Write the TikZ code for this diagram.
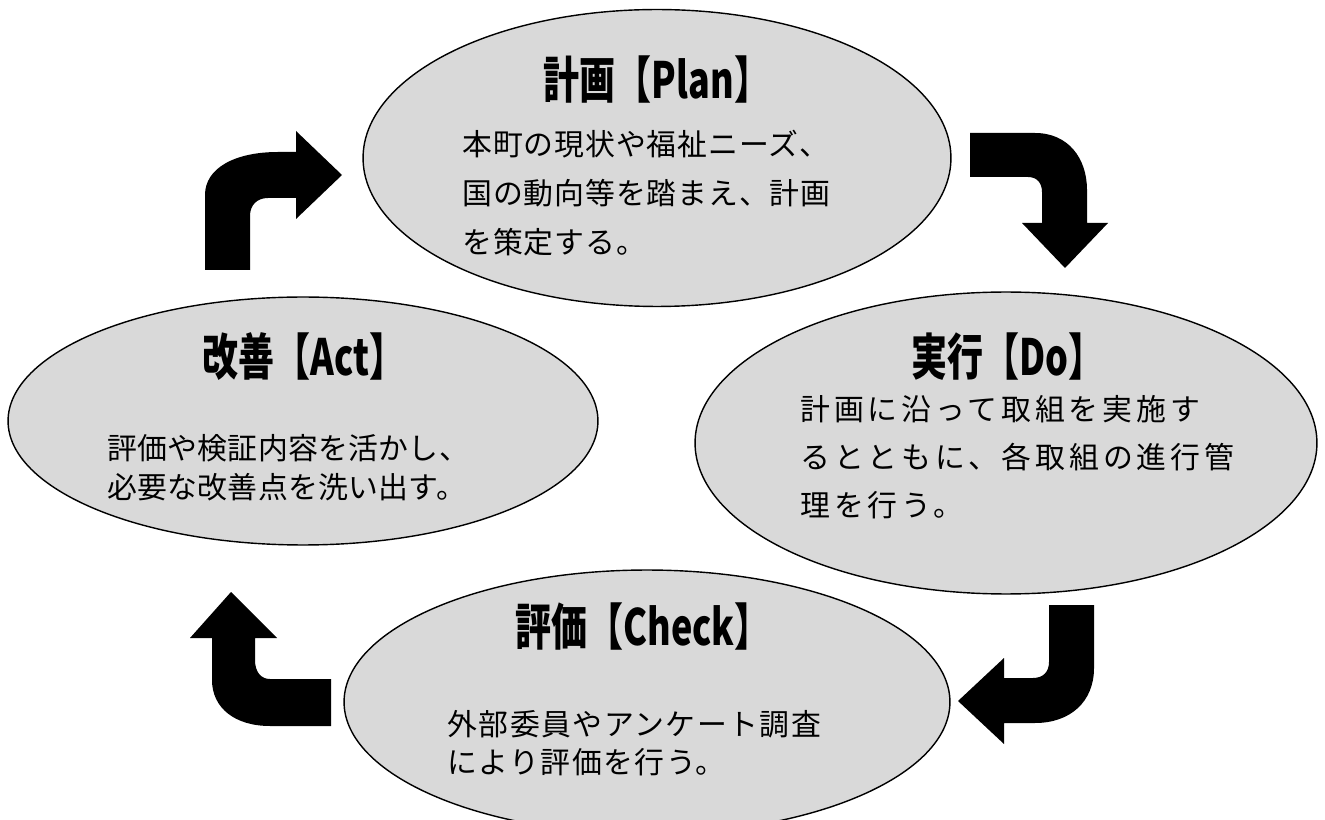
\documentclass[tikz,border=0pt]{standalone}
\usepackage{fontspec}
\usetikzlibrary{shapes.geometric}
\newfontfamily\jp{Noto Sans CJK JP}
\definecolor{ellfill}{RGB}{217,217,217}
\newcommand{\bodyfont}[2]{\jp\fontsize{17pt}{#1}\selectfont\addfontfeatures{LetterSpace=#2}}
\newcommand{\ttltext}[1]{\scalebox{0.72}[1]{#1}}
\tikzset{
  phase/.style={ellipse, draw=black, line width=0.8pt, fill=ellfill, inner sep=0pt},
  ttl/.style={inner sep=0pt, font=\jp\bfseries\fontsize{28.45pt}{30pt}\selectfont},
  body/.style={inner sep=0pt, anchor=north west, align=left},
  blockarrow/.style={fill=black, draw=none}
}
\begin{document}
\begin{tikzpicture}[x=0.02cm,y=-0.02cm]
\useasboundingbox (0,0) rectangle (1325,820);
% phases
\node[phase, minimum width=11.8cm, minimum height=4.96cm] (act) at (303,421) {};
\node[phase, minimum width=12.12cm, minimum height=5.28cm] (check) at (647,702) {};
\node[phase, minimum width=11.76cm, minimum height=5.94cm] (plan) at (657,158) {};
\node[phase, minimum width=12.44cm, minimum height=6.04cm] (do) at (1006,443) {};
% titles
\node[ttl] (plant) at (657,80) {\ttltext{計画【Plan】}};
\node[ttl] (actt) at (304,357) {\ttltext{改善【Act】}};
\node[ttl] (dot) at (1008,357) {\ttltext{実行【Do】}};
\node[ttl] (checkt) at (643,627) {\ttltext{評価【Check】}};
% bodies
\node[body, font={\bodyfont{27.9pt}{3}}] (planb) at (462,130) {本町の現状や福祉ニーズ、\\国の動向等を踏まえ、計画\\を策定する。};
\node[body, font={\bodyfont{22.2pt}{1}}] (actb) at (107,434) {評価や検証内容を活かし、\\必要な改善点を洗い出す。};
\node[body, font={\bodyfont{27.3pt}{13}}] (dob) at (800,395) {計画に沿って取組を実施す\\るとともに、各取組の進行管\\理を行う。};
\node[body, font={\bodyfont{21.6pt}{5}}] (checkb) at (447,710) {外部委員やアンケート調査\\により評価を行う。};
% block arrows
\fill[blockarrow] (250,270) -- (205,270) -- (205,195) .. controls (205,168) and (235,152) .. (278,152) -- (296,152) -- (296,131) -- (342,175) -- (296,219) -- (296,198) -- (268,198) .. controls (257,198) and (250,205) .. (250,216) -- cycle;
\fill[blockarrow] (970,133) -- (1035,133) .. controls (1068,133) and (1087,158) .. (1087,190) -- (1087,223) -- (1108,223) -- (1065,268) -- (1022,223) -- (1042,223) -- (1042,192) .. controls (1042,183) and (1037,177) .. (1028,177) -- (970,177) -- cycle;
\fill[blockarrow] (1049,605) -- (1094,605) -- (1094,668) .. controls (1094,702) and (1070,723) .. (1035,723) -- (1004,723) -- (1004,744) -- (958,701) -- (1004,658) -- (1004,678) -- (1033,678) .. controls (1043,678) and (1049,672) .. (1049,662) -- cycle;
\fill[blockarrow] (331,679) -- (270,679) .. controls (261,679) and (255,672) .. (255,660) -- (255,638) -- (277,638) -- (231,592) -- (190,638) -- (212,638) -- (212,680) .. controls (212,708) and (235,726) .. (270,726) -- (331,726) -- cycle;
\end{tikzpicture}
\end{document}
